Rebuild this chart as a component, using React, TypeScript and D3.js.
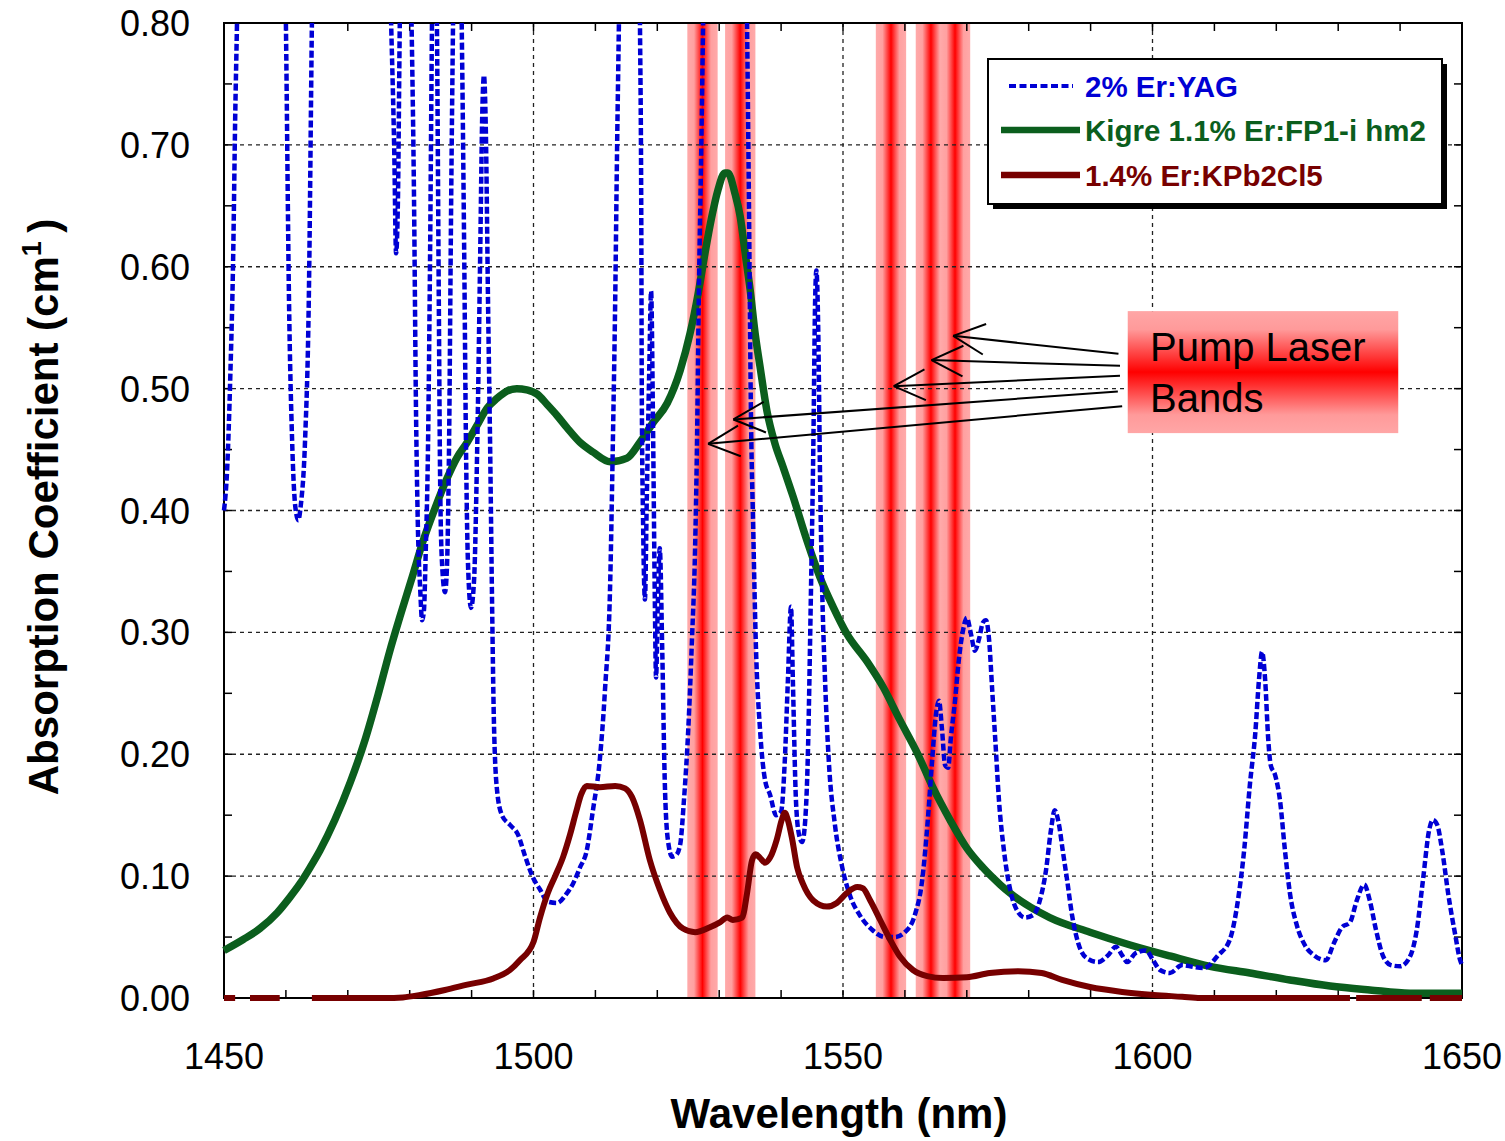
import React from 'react';
import * as d3 from 'd3';

const W = 1505;
const H = 1141;

const xDomain = [1450, 1650];
const yDomain = [0, 0.8];
const xTickValues = [1450, 1500, 1550, 1600, 1650];
const yTickValues = [0, 0.1, 0.2, 0.3, 0.4, 0.5, 0.6, 0.7, 0.8];
const yTickLabels = ['0.00', '0.10', '0.20', '0.30', '0.40', '0.50', '0.60', '0.70', '0.80'];
const xGridValues = [1500, 1550, 1600];
const yGridValues = [0.1, 0.2, 0.3, 0.4, 0.5, 0.6, 0.7];

const seriesNames = ['2% Er:YAG', 'Kigre 1.1% Er:FP1-i hm2', '1.4% Er:KPb2Cl5'];
const seriesColors = ['#0000d4', '#0b5e1d', '#770000'];

// 2% Er:YAG (values above 0.8 run off the top of the plot)
const yagData: [number, number][] = [
  [1450.0, 0.400], [1450.5, 0.433], [1451.0, 0.507], [1451.5, 0.614], [1451.8, 0.720], [1452.1, 0.80],
  [1453.0, 1.10], [1456.0, 1.60], [1459.0, 1.10], [1460.0, 0.80], [1460.5, 0.573], [1461.0, 0.458],
  [1461.5, 0.404], [1462.0, 0.392], [1462.4, 0.404], [1463.1, 0.458], [1463.7, 0.573], [1464.2, 0.80],
  [1466.0, 1.30], [1470.0, 1.80], [1474.0, 1.30], [1477.0, 0.80], [1477.5, 0.696], [1477.8, 0.611],
  [1478.1, 0.655], [1478.4, 0.80], [1479.4, 1.00], [1480.3, 0.80], [1480.7, 0.655], [1481.0, 0.49],
  [1481.3, 0.392], [1481.7, 0.335], [1482.0, 0.31], [1482.3, 0.318], [1482.6, 0.368], [1482.95, 0.45],
  [1483.3, 0.614], [1483.6, 0.80], [1484.0, 0.95], [1484.4, 0.80], [1484.7, 0.573], [1484.9, 0.433],
  [1485.2, 0.359], [1485.7, 0.333], [1486.0, 0.351], [1486.35, 0.45], [1486.7, 0.655], [1487.0, 0.80],
  [1487.7, 1.00], [1488.4, 0.80], [1488.8, 0.614], [1489.1, 0.45], [1489.4, 0.359], [1489.9, 0.32],
  [1490.4, 0.343], [1490.9, 0.45], [1491.4, 0.614], [1491.7, 0.72], [1492.0, 0.757], [1492.3, 0.712],
  [1492.65, 0.573], [1493.0, 0.45], [1493.3, 0.327], [1493.6, 0.228], [1494.1, 0.171], [1494.9, 0.15],
  [1496.2, 0.142], [1497.5, 0.134], [1498.6, 0.117], [1499.9, 0.099], [1501.05, 0.089], [1502.3, 0.079],
  [1503.8, 0.078], [1505.4, 0.086], [1506.4, 0.094], [1507.5, 0.107], [1508.6, 0.121], [1509.6, 0.154],
  [1510.7, 0.195], [1511.55, 0.253], [1512.4, 0.343], [1512.8, 0.45], [1513.2, 0.573], [1513.5, 0.696],
  [1513.8, 0.80], [1515.5, 1.50], [1517.2, 0.80], [1517.4, 0.655], [1517.5, 0.49], [1517.7, 0.392],
  [1518.0, 0.327], [1518.3, 0.409], [1518.7, 0.515], [1519.0, 0.58], [1519.3, 0.474], [1519.6, 0.327],
  [1519.8, 0.263], [1520.1, 0.327], [1520.4, 0.369], [1520.8, 0.285], [1521.2, 0.179], [1521.7, 0.13],
  [1522.4, 0.116], [1523.0, 0.117], [1523.7, 0.126], [1524.3, 0.162], [1525.0, 0.22], [1525.6, 0.294],
  [1526.1, 0.368], [1526.4, 0.45], [1526.7, 0.573], [1527.1, 0.696], [1527.4, 0.80], [1531.0, 1.80],
  [1534.5, 0.80], [1534.8, 0.655], [1535.1, 0.49], [1535.5, 0.384], [1535.9, 0.294], [1536.6, 0.22],
  [1537.4, 0.179], [1538.2, 0.167], [1539.2, 0.15], [1540.0, 0.153], [1540.6, 0.195], [1541.1, 0.261],
  [1541.6, 0.321], [1541.9, 0.261], [1542.4, 0.162], [1542.9, 0.134], [1543.4, 0.128], [1543.9, 0.146],
  [1544.3, 0.195], [1544.8, 0.327], [1545.2, 0.45], [1545.5, 0.573], [1545.7, 0.597], [1546.0, 0.548],
  [1546.3, 0.425], [1546.6, 0.343], [1547.1, 0.261], [1547.7, 0.195], [1548.7, 0.142], [1549.8, 0.109],
  [1551.1, 0.0845], [1552.7, 0.068], [1554.7, 0.056], [1556.8, 0.05], [1558.4, 0.05], [1560.0, 0.054],
  [1561.6, 0.068], [1562.8, 0.097], [1563.7, 0.146], [1564.4, 0.195], [1565.0, 0.232], [1565.5, 0.244],
  [1566.0, 0.22], [1566.5, 0.191], [1567.0, 0.189], [1567.4, 0.212], [1568.1, 0.244], [1568.7, 0.277],
  [1569.4, 0.302], [1570.0, 0.312], [1570.7, 0.298], [1571.3, 0.285], [1572.0, 0.295], [1572.6, 0.308],
  [1573.1, 0.31], [1573.6, 0.294], [1574.1, 0.253], [1574.6, 0.212], [1575.2, 0.162], [1576.0, 0.121],
  [1577.0, 0.089], [1578.1, 0.072], [1579.4, 0.066], [1580.7, 0.068], [1581.8, 0.08], [1582.8, 0.105],
  [1583.6, 0.138], [1584.2, 0.154], [1584.9, 0.142], [1585.5, 0.121], [1586.2, 0.097], [1587.0, 0.068],
  [1588.0, 0.045], [1589.3, 0.033], [1591.2, 0.0295], [1592.8, 0.035], [1594.1, 0.042], [1595.1, 0.035],
  [1595.9, 0.0295], [1597.3, 0.037], [1598.95, 0.039], [1600.1, 0.031], [1601.2, 0.023], [1602.8, 0.0205],
  [1604.8, 0.027], [1606.7, 0.0254], [1608.3, 0.0246], [1610.6, 0.035], [1612.5, 0.048], [1613.8, 0.08],
  [1614.8, 0.121], [1615.75, 0.176], [1616.6, 0.217], [1617.2, 0.261], [1617.7, 0.284], [1618.2, 0.261],
  [1618.7, 0.212], [1619.1, 0.191], [1619.8, 0.183], [1620.6, 0.162], [1621.4, 0.121], [1622.2, 0.086],
  [1623.3, 0.06], [1624.6, 0.0435], [1626.1, 0.035], [1628.0, 0.031], [1629.3, 0.045], [1630.6, 0.058],
  [1631.9, 0.062], [1633.0, 0.08], [1634.2, 0.093], [1635.1, 0.08], [1636.1, 0.056], [1637.2, 0.035],
  [1638.5, 0.027], [1640.0, 0.026], [1641.6, 0.034], [1642.7, 0.056], [1643.7, 0.097], [1644.7, 0.138],
  [1645.3, 0.146], [1646.0, 0.142], [1646.8, 0.121], [1647.8, 0.0845], [1648.9, 0.052], [1649.7, 0.031],
  [1650.0, 0.027],
];

// Kigre 1.1% Er:FP1-i hm2
const kigreData: [number, number][] = [
  [1450.0, 0.039], [1453.1, 0.048], [1455.8, 0.057], [1458.6, 0.07], [1460.7, 0.083], [1462.3, 0.094],
  [1463.9, 0.107], [1465.5, 0.121], [1467.9, 0.146], [1470.4, 0.177], [1472.8, 0.212], [1474.9, 0.249],
  [1476.8, 0.285], [1478.4, 0.3125], [1480.5, 0.347], [1482.1, 0.374], [1484.1, 0.402], [1486.0, 0.426],
  [1487.6, 0.443], [1489.3, 0.456], [1490.9, 0.47], [1492.5, 0.484], [1494.1, 0.492], [1495.7, 0.498],
  [1497.3, 0.5], [1498.9, 0.499], [1500.6, 0.4955], [1502.2, 0.487], [1503.8, 0.478], [1505.4, 0.468],
  [1507.5, 0.456], [1509.6, 0.448], [1512.4, 0.44], [1515.1, 0.443], [1517.2, 0.456], [1519.3, 0.472],
  [1521.6, 0.488], [1523.7, 0.515], [1525.3, 0.5455], [1526.6, 0.578], [1527.7, 0.611], [1528.8, 0.641],
  [1529.8, 0.663], [1530.9, 0.677], [1531.4, 0.677], [1532.55, 0.66], [1533.4, 0.641], [1534.2, 0.611],
  [1535.0, 0.581], [1535.8, 0.5455], [1536.6, 0.518], [1537.7, 0.482], [1539.0, 0.455], [1540.3, 0.436],
  [1541.9, 0.412], [1544.2, 0.375], [1546.3, 0.345], [1548.4, 0.321], [1550.6, 0.299], [1553.9, 0.276],
  [1556.5, 0.255], [1559.2, 0.228], [1562.0, 0.201], [1564.5, 0.173], [1567.3, 0.146], [1570.0, 0.123],
  [1572.6, 0.107], [1575.4, 0.093], [1577.0, 0.086], [1583.4, 0.066], [1589.9, 0.054], [1596.4, 0.0435],
  [1602.8, 0.0345], [1609.3, 0.026], [1615.75, 0.0205], [1622.2, 0.0148], [1628.7, 0.0098], [1635.1, 0.0066],
  [1641.6, 0.004], [1648.1, 0.004], [1650.0, 0.004],
];

// 1.4% Er:KPb2Cl5 (null = below the axis, not drawn)
const kpbData: [number, number | null][] = [
  [1450.0, 0], [1451.8, 0], [1453.0, null], [1454.2, 0], [1459.0, 0], [1461.5, null], [1464.2, 0],
  [1470.0, 0], [1476.0, 0], [1478.9, 0.0005], [1481.7, 0.0025], [1485.7, 0.0066], [1489.3, 0.011],
  [1493.5, 0.016], [1496.2, 0.023], [1497.8, 0.031], [1500.0, 0.046], [1501.05, 0.066], [1502.3, 0.086],
  [1503.5, 0.10], [1504.8, 0.116], [1505.9, 0.134], [1506.9, 0.153], [1507.7, 0.167], [1508.6, 0.174],
  [1510.7, 0.173], [1513.2, 0.174], [1514.8, 0.172], [1515.9, 0.165], [1517.2, 0.146], [1518.8, 0.113],
  [1520.4, 0.089], [1522.05, 0.07], [1524.15, 0.057], [1526.1, 0.054], [1528.5, 0.058], [1530.1, 0.062],
  [1531.3, 0.066], [1532.2, 0.064], [1533.7, 0.066], [1534.5, 0.086], [1535.3, 0.113], [1535.9, 0.118],
  [1536.6, 0.115], [1537.4, 0.111], [1538.2, 0.115], [1539.3, 0.13], [1540.1, 0.146], [1540.6, 0.152],
  [1541.1, 0.146], [1541.8, 0.13], [1542.6, 0.107], [1543.5, 0.094], [1545.2, 0.08], [1547.4, 0.075],
  [1549.0, 0.078], [1550.6, 0.086], [1552.3, 0.091], [1553.2, 0.09], [1554.4, 0.08], [1556.0, 0.064],
  [1557.6, 0.048], [1559.2, 0.034], [1561.3, 0.023], [1563.6, 0.018], [1566.2, 0.0164], [1570.0, 0.017],
  [1573.7, 0.0205], [1578.3, 0.022], [1582.1, 0.0205], [1585.4, 0.0148], [1589.9, 0.009], [1595.1, 0.005],
  [1600.2, 0.0025], [1604.8, 0.001], [1607.7, 0], [1620.0, 0], [1631.9, 0], [1632.4, null], [1632.9, 0],
  [1643.5, 0], [1644.1, null], [1644.8, 0], [1650.0, 0],
];

const pumpBandCenters = [1527.3, 1533.4, 1557.75, 1564.2, 1568.1];
const pumpBandWidth = 4.9;

const pumpLabelLines = ['Pump Laser', 'Bands'];
const pumpBoxWl = [1596.0, 1639.7];
const pumpBoxVal = [0.5636, 0.4635];
const pumpTextWl = 1599.6;
const pumpTextVal = [0.5226, 0.481];

const arrowFromWl = [1594.5, 1594.75, 1594.75, 1594.4, 1595.1];
const arrowFromVal = [0.5286, 0.5187, 0.5105, 0.4977, 0.4856];
const arrowToWl = [1567.8, 1564.3, 1558.2, 1532.3, 1528.2];
const arrowToVal = [0.5433, 0.5234, 0.502, 0.4747, 0.4547];

const FONT = "'Liberation Sans', Arial, Helvetica, sans-serif";

export default function App() {
  const x = d3.scaleLinear().domain(xDomain).range([224, 1462]);
  const y = d3.scaleLinear().domain(yDomain).range([998, 23]);
  const [x0, x1] = x.range();
  const [yb, yt] = y.range();

  const line = d3
    .line<[number, number | null]>()
    .defined((d) => d[1] !== null)
    .x((d) => x(d[0]))
    .y((d) => y(d[1] as number))
    .curve(d3.curveMonotoneX);

  const xMinor = d3.range(1450, 1651, 10);
  const yMinor = d3.range(0, 0.801, 0.05);
  const tickLen = 8;

  const arrows = arrowFromWl.map((_, i) => {
    const sx = x(arrowFromWl[i]);
    const sy = y(arrowFromVal[i]);
    const tx = x(arrowToWl[i]);
    const ty = y(arrowToVal[i]);
    const ang = Math.atan2(sy - ty, sx - tx);
    const L = 35;
    const a = (26 * Math.PI) / 180;
    return {
      sx, sy, tx, ty,
      w1x: tx + L * Math.cos(ang - a), w1y: ty + L * Math.sin(ang - a),
      w2x: tx + L * Math.cos(ang + a), w2y: ty + L * Math.sin(ang + a),
    };
  });

  const legendX = 988;
  const legendY = 59;
  const legendW = 454;
  const legendH = 145;
  const legendRows = [86, 130, 175];

  return (
    <svg
      width={W}
      height={H}
      style={{ position: 'absolute', left: 0, top: 0, background: '#fff' }}
      fontFamily={FONT}
    >
      <defs>
        <linearGradient id="bandGrad" x1="0" x2="1" y1="0" y2="0">
          <stop offset="0" stopColor="#ffaaaa" />
          <stop offset="0.22" stopColor="#ffa0a0" />
          <stop offset="0.5" stopColor="#ff0000" />
          <stop offset="0.78" stopColor="#ffa0a0" />
          <stop offset="1" stopColor="#ffaaaa" />
        </linearGradient>
        <linearGradient id="boxGrad" x1="0" x2="0" y1="0" y2="1">
          <stop offset="0" stopColor="#ffa6a6" />
          <stop offset="0.15" stopColor="#ff9a9a" />
          <stop offset="0.5" stopColor="#ff0000" />
          <stop offset="0.85" stopColor="#ff9a9a" />
          <stop offset="1" stopColor="#ffa6a6" />
        </linearGradient>
        <clipPath id="plotClip">
          <rect x={x0 - 4} y={yt} width={x1 - x0 + 8} height={yb - yt + 12} />
        </clipPath>
      </defs>

      <rect x={0} y={0} width={W} height={H} fill="#fff" />

      {/* pump bands */}
      {pumpBandCenters.map((c, i) => (
        <rect
          key={'band' + i}
          x={x(c - pumpBandWidth / 2)}
          y={yt}
          width={x(c + pumpBandWidth / 2) - x(c - pumpBandWidth / 2)}
          height={yb - yt}
          fill="url(#bandGrad)"
        />
      ))}

      {/* grid */}
      {xGridValues.map((v) => (
        <line key={'gx' + v} x1={x(v)} x2={x(v)} y1={yt} y2={yb} stroke="#222" strokeWidth={1.3} strokeDasharray="4,4" />
      ))}
      {yGridValues.map((v) => (
        <line key={'gy' + v} x1={x0} x2={x1} y1={y(v)} y2={y(v)} stroke="#222" strokeWidth={1.3} strokeDasharray="4,4" />
      ))}

      {/* ticks */}
      {xMinor.map((v) => (
        <g key={'tx' + v}>
          <line x1={x(v)} x2={x(v)} y1={yb} y2={yb - tickLen} stroke="#000" strokeWidth={1.5} />
          <line x1={x(v)} x2={x(v)} y1={yt} y2={yt + tickLen} stroke="#000" strokeWidth={1.5} />
        </g>
      ))}
      {yMinor.map((v) => (
        <g key={'ty' + v}>
          <line x1={x0} x2={x0 + tickLen} y1={y(v)} y2={y(v)} stroke="#000" strokeWidth={1.5} />
          <line x1={x1} x2={x1 - tickLen} y1={y(v)} y2={y(v)} stroke="#000" strokeWidth={1.5} />
        </g>
      ))}

      {/* frame */}
      <rect x={x0} y={yt} width={x1 - x0} height={yb - yt} fill="none" stroke="#000" strokeWidth={2} />

      {/* series */}
      <g clipPath="url(#plotClip)">
        <path
          d={line(kigreData as [number, number | null][]) || ''}
          fill="none"
          stroke={seriesColors[1]}
          strokeWidth={7.5}
          strokeLinejoin="round"
        />
        <path
          d={line(yagData as [number, number | null][]) || ''}
          fill="none"
          stroke={seriesColors[0]}
          strokeWidth={4.5}
          strokeDasharray="7,3"
        />
        <path
          d={line(kpbData) || ''}
          fill="none"
          stroke={seriesColors[2]}
          strokeWidth={6}
          strokeLinejoin="round"
        />
      </g>

      {/* tick labels */}
      {xTickValues.map((v) => (
        <text key={'xl' + v} x={x(v)} y={1069} fontSize={36} textAnchor="middle" fill="#000">
          {v}
        </text>
      ))}
      {yTickValues.map((v, i) => (
        <text key={'yl' + v} x={190} y={y(v) + 13} fontSize={36} textAnchor="end" fill="#000">
          {yTickLabels[i]}
        </text>
      ))}

      {/* axis titles */}
      <text x={839} y={1128} fontSize={42} fontWeight="bold" textAnchor="middle" fill="#000">
        Wavelength (nm)
      </text>
      <text transform="translate(58,507) rotate(-90)" fontSize={42} fontWeight="bold" textAnchor="middle" fill="#000">
        Absorption Coefficient (cm
        <tspan fontSize={27} dy={-17}>1</tspan>
        <tspan dy={17}>{'\u2009)'}</tspan>
      </text>

      {/* legend */}
      <rect x={legendX + 5} y={legendY + 5} width={legendW} height={legendH} fill="#000" />
      <rect x={legendX} y={legendY} width={legendW} height={legendH} fill="#fff" stroke="#000" strokeWidth={2} />
      <line x1={1009} x2={1073} y1={legendRows[0]} y2={legendRows[0]} stroke={seriesColors[0]} strokeWidth={4} strokeDasharray="7,3.5" />
      <line x1={1001} x2={1080} y1={legendRows[1]} y2={legendRows[1]} stroke={seriesColors[1]} strokeWidth={6.5} />
      <line x1={1001} x2={1080} y1={legendRows[2]} y2={legendRows[2]} stroke={seriesColors[2]} strokeWidth={6.5} />
      {seriesNames.map((n, i) => (
        <text key={n} x={1085} y={legendRows[i] + 11} fontSize={29.5} fontWeight="bold" fill={seriesColors[i]}>
          {n}
        </text>
      ))}

      {/* pump laser label */}
      <rect
        x={x(pumpBoxWl[0])}
        y={y(pumpBoxVal[0])}
        width={x(pumpBoxWl[1]) - x(pumpBoxWl[0])}
        height={y(pumpBoxVal[1]) - y(pumpBoxVal[0])}
        fill="url(#boxGrad)"
      />
      {pumpLabelLines.map((t, i) => (
        <text key={t} x={x(pumpTextWl)} y={y(pumpTextVal[i])} fontSize={40} fill="#000">
          {t}
        </text>
      ))}

      {/* arrows */}
      {arrows.map((a, i) => (
        <g key={'ar' + i} stroke="#000" strokeWidth={2} fill="none">
          <line x1={a.sx} y1={a.sy} x2={a.tx} y2={a.ty} />
          <line x1={a.tx} y1={a.ty} x2={a.w1x} y2={a.w1y} />
          <line x1={a.tx} y1={a.ty} x2={a.w2x} y2={a.w2y} />
        </g>
      ))}
    </svg>
  );
}
